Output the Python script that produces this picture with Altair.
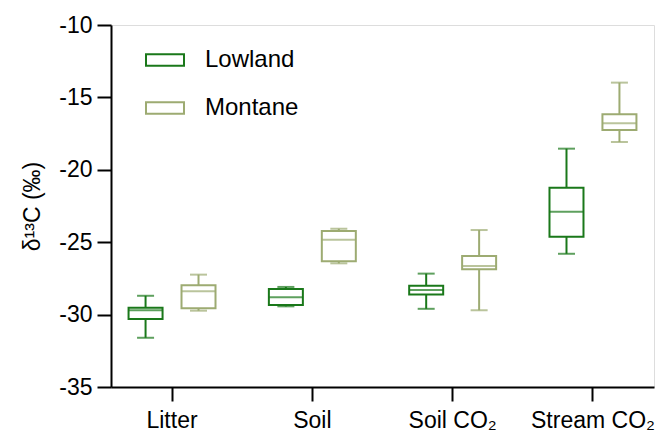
import altair as alt
import pandas as pd

# Sample types along the x axis and the two site groups
categories = ["Litter", "Soil", "Soil CO₂", "Stream CO₂"]
sites = ["Lowland", "Montane"]
site_colors = ["#1a781a", "#9dab72"]

# Box-plot summaries of δ13C (‰) per category: whisker min, Q1, median, Q3, whisker max
lowland_min = [-31.6, -29.43, -29.6, -25.8]
lowland_q1 = [-30.3, -29.34, -28.62, -24.62]
lowland_med = [-29.7, -28.81, -28.3, -22.9]
lowland_q3 = [-29.52, -28.23, -28.0, -21.24]
lowland_max = [-28.7, -28.09, -27.17, -18.54]

montane_min = [-29.73, -26.46, -29.7, -18.08]
montane_q1 = [-29.57, -26.32, -26.87, -17.25]
montane_med = [-28.39, -24.83, -26.64, -16.79]
montane_q3 = [-27.98, -24.23, -25.95, -16.17]
montane_max = [-27.24, -24.07, -24.16, -13.98]

rows = []
for i, cat in enumerate(categories):
    rows.append(dict(cat=cat, site="Lowland", lo=lowland_min[i], q1=lowland_q1[i],
                     med=lowland_med[i], q3=lowland_q3[i], hi=lowland_max[i]))
    rows.append(dict(cat=cat, site="Montane", lo=montane_min[i], q1=montane_q1[i],
                     med=montane_med[i], q3=montane_q3[i], hi=montane_max[i]))
df = pd.DataFrame(rows)

x_enc = alt.X(
    "cat:N",
    sort=categories,
    scale=alt.Scale(paddingInner=0.2, paddingOuter=0.035),
    axis=alt.Axis(
        title=None, labelAngle=0, labelFontSize=23, labelPadding=8,
        tickSize=14, tickWidth=2, domainWidth=2, labelColor="black",
        tickColor="black", domainColor="black", labelFont="Liberation Sans",
    ),
)
xoff_enc = alt.XOffset("site:N", sort=sites, scale=alt.Scale(paddingOuter=0.06))
site_scale = alt.Scale(domain=sites, range=site_colors)
color_enc = alt.Color("site:N", sort=sites, scale=site_scale, legend=None)

legend_props = dict(
    title=None, orient="none", legendX=34, legendY=15,
    symbolType="M-1,-0.3H1V0.3H-1Z", symbolSize=1444, symbolStrokeWidth=2,
    labelFontSize=24, labelOffset=20,
    labelFont="Liberation Sans", labelColor="black", rowPadding=16,
    padding=0,
)
# Boxes: coloured outline with a white interior; both channels share one legend
stroke_enc = alt.Stroke("site:N", sort=sites, scale=site_scale,
                        legend=alt.Legend(**legend_props))
fill_enc = alt.Fill("site:N", sort=sites,
                    scale=alt.Scale(domain=sites, range=["white", "white"]),
                    legend=alt.Legend(**legend_props))

y_scale = alt.Scale(domain=[-35, -10], nice=False, zero=False)
y_axis = alt.Axis(
    title="δ¹³C (‰)", titleFontSize=23, titleFontWeight="normal",
    titleFont="Liberation Sans", titleColor="black", titlePadding=14,
    values=[-35, -30, -25, -20, -15, -10], labelFontSize=23,
    labelExpr="'' + datum.value",
    labelFont="Liberation Sans", labelColor="black", labelPadding=5,
    tickSize=14, tickWidth=2, tickColor="black", domainWidth=2,
    domainColor="black", grid=False,
)

base = alt.Chart(df).encode(x=x_enc, xOffset=xoff_enc)

box = base.mark_bar(strokeWidth=2, size=34).encode(
    y=alt.Y("q1:Q", scale=y_scale, axis=y_axis), y2="q3:Q",
    stroke=stroke_enc, fill=fill_enc,
)
lower_whisker = base.mark_rule(strokeWidth=2).encode(y="lo:Q", y2="q1:Q", color=color_enc)
upper_whisker = base.mark_rule(strokeWidth=2).encode(y="q3:Q", y2="hi:Q", color=color_enc)
median = base.mark_tick(orient="horizontal", size=34, thickness=2).encode(y="med:Q", color=color_enc)
cap_lo = base.mark_tick(orient="horizontal", size=17, thickness=2).encode(y="lo:Q", color=color_enc)
cap_hi = base.mark_tick(orient="horizontal", size=17, thickness=2).encode(y="hi:Q", color=color_enc)

chart = (
    alt.layer(box, lower_whisker, upper_whisker, median, cap_lo, cap_hi)
    .properties(
        width=543, height=362,
        autosize=alt.AutoSizeParams(type="none"),
        padding={"left": 111, "top": 25, "right": 5, "bottom": 44},
    )
    .configure_view(stroke="black", strokeWidth=2)
    .configure(font="Liberation Sans", background="white")
)

chart.save("out.html", embed_options={"renderer": "svg", "actions": False})
